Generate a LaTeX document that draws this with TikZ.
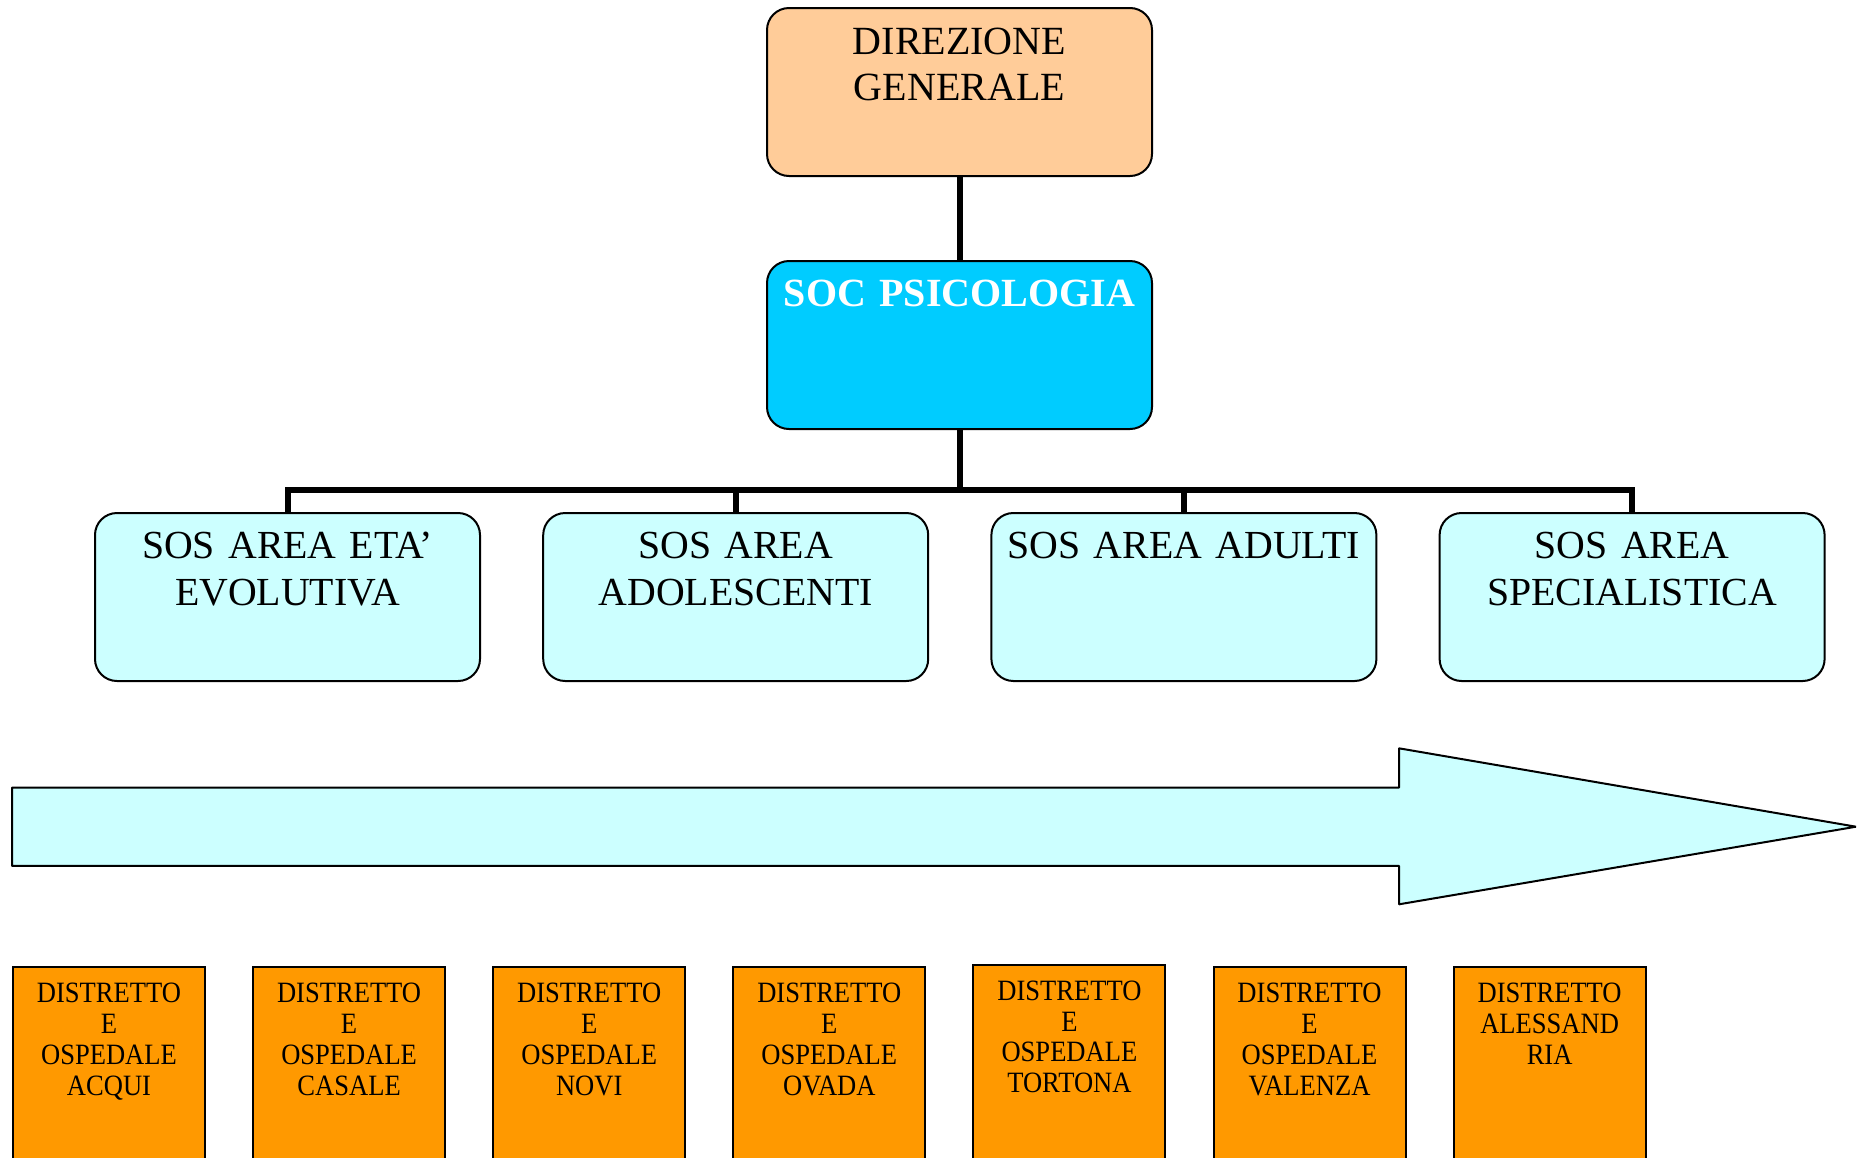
\documentclass[tikz,border=0pt]{standalone}
\usepackage{fontspec}
\setmainfont{Liberation Serif}
\newfontfamily\condserif[FakeStretch=0.9]{Liberation Serif}
\definecolor{peach}{HTML}{FFCC99}
\definecolor{skyblue}{HTML}{00CCFF}
\definecolor{paleblue}{HTML}{CCFFFF}
\definecolor{orangefill}{HTML}{FF9900}

\begin{document}
\begin{tikzpicture}[x=1pt,y=-1pt,
  roundbox/.style={draw=black, line width=2pt, rounded corners=22pt,
    minimum width=385pt, minimum height=168pt, inner sep=0pt, anchor=north},
  distbox/.style={draw=black, line width=2pt, fill=orangefill,
    minimum width=192pt, minimum height=230pt, inner sep=0pt, anchor=north},
  bigtext/.style={font=\fontsize{40}{45.7}\selectfont, text width=380pt,
    align=center, inner sep=0pt, anchor=base},
  sostext/.style={font=\fontsize{39.8}{46.7}\selectfont, text width=380pt,
    align=center, inner sep=0pt, anchor=base},
  disttext/.style={font=\condserif\fontsize{29.5}{30.8}\selectfont, text width=188pt,
    align=center, inner sep=0pt, anchor=base},
  conn/.style={line width=6pt, draw=black},
  flowarrow/.style={draw=black, line width=2pt, fill=paleblue, line join=bevel}
]
\clip (0,0) rectangle (1859,1157);
\fill[white] (0,0) rectangle (1859,1157);

% top of the hierarchy
\node[roundbox, fill=peach] (dg) at (959.5,7) {};
\node[roundbox, fill=skyblue] (soc) at (959.5,260) {};

% second level
\node[roundbox, fill=paleblue] (sos1) at (287.5,512) {};
\node[roundbox, fill=paleblue] (sos2) at (735.7,512) {};
\node[roundbox, fill=paleblue] (sos3) at (1183.9,512) {};
\node[roundbox, fill=paleblue] (sos4) at (1632.1,512) {};

% connectors
\coordinate (bus) at (959.5,490);
\draw[conn] (dg.south) -- (soc.north);
\draw[conn] (soc.south) -- (bus);
\foreach \i in {1,...,4} \draw[conn] (bus) -| (sos\i.north);

% box labels
\node[bigtext] (dgtxt) at (959.5,54.3) {DIREZIONE\\GENERALE};
\node[bigtext, text=white, font=\bfseries\fontsize{40}{45.7}\selectfont] (soctxt) at (959.5,306.7) {SOC PSICOLOGIA};
\node[sostext] (sos1txt) at (287.5,558.3) {SOS AREA ETA’\\EVOLUTIVA};
\node[sostext] (sos2txt) at (735.7,558.3) {SOS AREA\\ADOLESCENTI};
\node[sostext] (sos3txt) at (1183.9,558.3) {SOS AREA ADULTI};
\node[sostext] (sos4txt) at (1632.1,558.3) {SOS AREA\\SPECIALISTICA};

% wide arrow
\draw[flowarrow] (12,787.5) -- (1399,787.5) -- (1399,748.3) -- (1856,826.7)
  -- (1399,904.3) -- (1399,865.8) -- (12,865.8) -- cycle;

% districts
\node[distbox] (d1) at (109,966) {};
\node[distbox] (d2) at (349.1,966) {};
\node[distbox] (d3) at (589.2,966) {};
\node[distbox] (d4) at (829.3,966) {};
\node[distbox] (d5) at (1069.4,963.5) {};
\node[distbox] (d6) at (1309.5,966) {};
\node[distbox] (d7) at (1549.6,966) {};

\node[disttext] (d1txt) at (109,1002.7) {DISTRETTO\\E\\OSPEDALE\\ACQUI};
\node[disttext] (d2txt) at (349.1,1002.7) {DISTRETTO\\E\\OSPEDALE\\CASALE};
\node[disttext] (d3txt) at (589.2,1002.7) {DISTRETTO\\E\\OSPEDALE\\NOVI};
\node[disttext] (d4txt) at (829.3,1002.7) {DISTRETTO\\E\\OSPEDALE\\OVADA};
\node[disttext] (d5txt) at (1069.4,1000.2) {DISTRETTO\\E\\OSPEDALE\\TORTONA};
\node[disttext] (d6txt) at (1309.5,1002.7) {DISTRETTO\\E\\OSPEDALE\\VALENZA};
\node[disttext] (d7txt) at (1549.6,1002.7) {DISTRETTO\\ALESSAND\\RIA};
\end{tikzpicture}
\end{document}
